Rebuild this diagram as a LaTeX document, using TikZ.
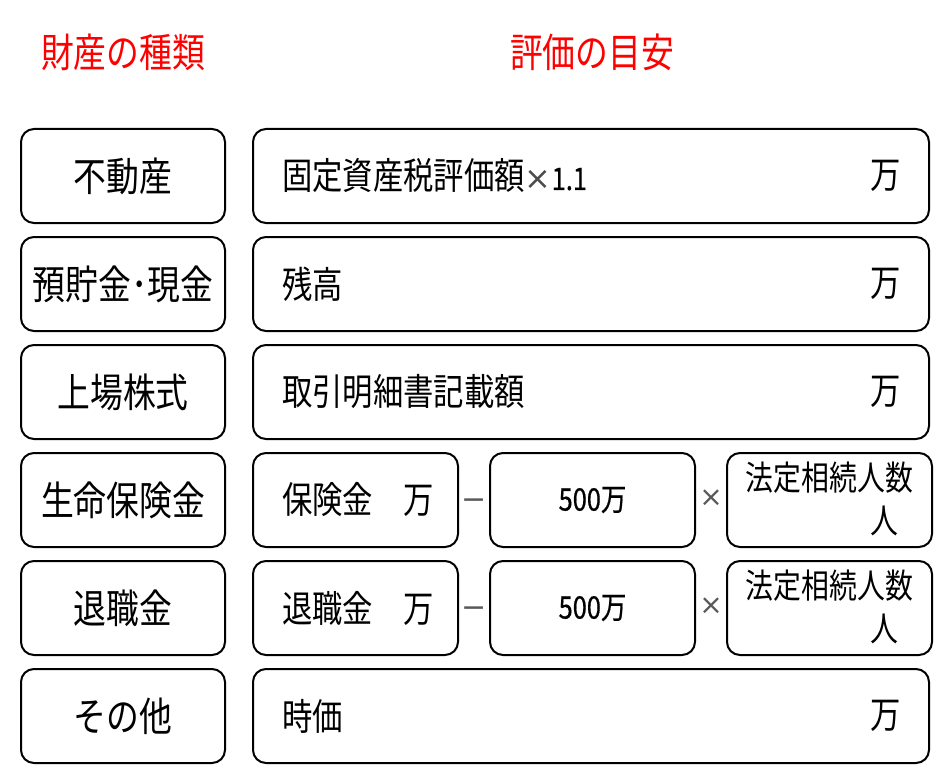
\documentclass[tikz,border=0pt]{standalone}
\usepackage{fontspec}
\setmainfont[FakeStretch=0.82]{Noto Sans CJK JP}
\newfontfamily\signfont{DejaVu Sans}
\usetikzlibrary{positioning}

\newcommand{\digits}[1]{{\fontsize{31}{34}\selectfont\addfontfeature{FakeBold=0.6}#1}}
\newcommand{\timessign}[1]{{\signfont\fontsize{#1}{#1}\selectfont\color{black!70}×}}

\tikzset{
  box/.style={draw,line width=2pt,rounded corners=13pt,inner sep=0pt},
  kindbox/.style={box,minimum width=204pt,minimum height=94pt,font=\fontsize{40}{44}\selectfont},
  valbox/.style={box,minimum width=676pt,minimum height=94pt},
  partbox/.style={box,minimum width=205pt,minimum height=94pt,font=\fontsize{37}{40}\selectfont},
  valtext/.style={inner sep=0pt,font=\fontsize{37}{40}\selectfont},
  smalltext/.style={inner sep=0pt,font=\fontsize{34}{38}\selectfont},
  opsign/.style={inner sep=0pt,anchor=base,text=black!65},
  heading/.style={inner sep=0pt,text=red,font=\fontsize{40}{44}\selectfont}
}

\begin{document}
\begin{tikzpicture}[x=1pt,y=-1pt]
    \useasboundingbox (0,0) rectangle (950,781);
    \node[heading] (kindhead) at (123,52) {財産の種類};
    \node[heading] (valhead) at (592,52) {評価の目安};
    \foreach \txt [count=\i] in {不動産,預貯金･現金,上場株式,生命保険金,退職金,その他}
        \node[kindbox] (kind\i) at (123,{176+108*(\i-1)}) {\txt};
    \foreach \i/\txt in {1/固定資産税評価額\timessign{32}\digits{1.1},2/残高,3/取引明細書記載額,6/時価} {
        \node[valbox] (val\i) at (591,{176+108*(\i-1)}) {};
        \node[valtext,anchor=west] (item\i) at ([xshift=30pt]val\i.west) {\txt};
        \node[valtext,anchor=east] (unit\i) at ([xshift=-29pt]val\i.east) {万};
    }
    \foreach \i/\txt in {4/保険金,5/退職金} {
        \node[partbox] (amt\i) at (355.5,{176+108*(\i-1)}) {};
        \node[valtext,anchor=west] (amttext\i) at ([xshift=30pt]amt\i.west) {\txt　万};
        \node[opsign,font=\signfont\fontsize{30}{32}\selectfont] (minus\i) at ([xshift=15pt,yshift=-9.6pt]amt\i.east) {−};
        \node[partbox,right=30pt of amt\i] (ded\i) {\digits{500万}};
        \node[opsign,font=\signfont\fontsize{28}{30}\selectfont] (times\i) at ([xshift=15pt,yshift=-6.3pt]ded\i.east) {×};
        \node[partbox,right=30pt of ded\i] (heirs\i) {};
        \node[smalltext] (heirstext\i) at ([yshift=22pt]heirs\i.center) {法定相続人数};
        \node[smalltext,anchor=east] (person\i) at ([xshift=-34pt,yshift=-21pt]heirs\i.east) {人};
    }
\end{tikzpicture}
\end{document}
